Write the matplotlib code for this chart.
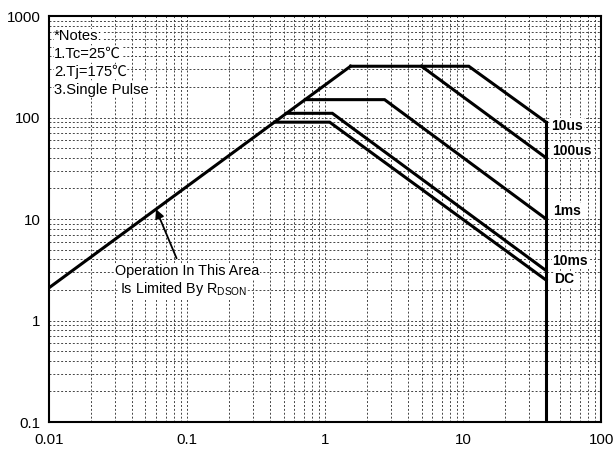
import matplotlib.pyplot as plt

# safe operating area data (Vds in V, Id in A)
rdson_v = [0.01, 1.53]
rdson_i = [2.1, 320]

v_10us = [1.53, 11, 40]
i_10us = [320, 320, 90]
v_100us = [5, 40]
i_100us = [320, 40]
v_1ms = [0.72, 2.7, 40]
i_1ms = [150, 150, 10]
v_10ms = [0.52, 1.13, 40]
i_10ms = [110, 110, 3.1]
v_dc = [0.43, 1.08, 40]
i_dc = [90, 90, 2.5]
vmax_v = [40, 40]
vmax_i = [0.1, 90]

curve_labels = ["10us", "100us", "1ms", "10ms", "DC"]
label_x = [43.5, 44, 45, 44.5, 46]
label_y = [83, 47, 12, 3.85, 2.55]

notes = ["*Notes:", "1.Tc=25\u2103", "2.Tj=175\u2103", "3.Single Pulse"]

fig = plt.figure(figsize=(6.14, 4.5), dpi=100)
ax = fig.add_axes([0.0798, 0.0622, 0.8992, 0.9022])
ax.set_xscale("log")
ax.set_yscale("log")
ax.set_xlim(0.01, 100)
ax.set_ylim(0.1, 1000)

ax.grid(True, which="both", linestyle=(0, (2, 2)), color="#444444", linewidth=0.7)
ax.set_axisbelow(True)

lw = 2.2
ax.plot(rdson_v, rdson_i, color="black", lw=lw)
for v, i in [(v_10us, i_10us), (v_100us, i_100us), (v_1ms, i_1ms),
             (v_10ms, i_10ms), (v_dc, i_dc), (vmax_v, vmax_i)]:
    ax.plot(v, i, color="black", lw=lw, solid_joinstyle="miter")

for lab, x, y in zip(curve_labels, label_x, label_y):
    ax.text(x, y, lab, fontsize=10, fontweight="bold", family="Liberation Sans",
            va="center", ha="left", bbox=dict(facecolor="white", edgecolor="none", pad=0.5))

for k, t in enumerate(notes):
    ax.text(0.0109, 10 ** (2.80 - 0.175 * k), t, fontsize=10.6,
            family=["Liberation Sans", "Noto Sans CJK SC"], va="center", ha="left",
            bbox=dict(facecolor="white", edgecolor="none", pad=0.3))

ax.annotate("", xy=(0.0596, 12.5), xytext=(0.084, 4.1),
            arrowprops=dict(arrowstyle="-|>", color="black", lw=1.3,
                            mutation_scale=13, shrinkA=0, shrinkB=0))
ax.text(0.030, 3.06, "Operation In This Area", fontsize=10.4, family="Liberation Sans",
        va="center", ha="left", bbox=dict(facecolor="white", edgecolor="none", pad=0.3))
ax.text(0.0325, 2.03, "Is Limited By R$_{\\mathregular{DSON}}$", fontsize=10.4,
        family="Liberation Sans", va="center", ha="left",
        bbox=dict(facecolor="white", edgecolor="none", pad=0.3))

ax.set_xticks([0.01, 0.1, 1, 10, 100])
ax.set_xticklabels(["0.01", "0.1", "1", "10", "100"])
ax.set_yticks([0.1, 1, 10, 100, 1000])
ax.set_yticklabels(["0.1", "1", "10", "100", "1000"])
ax.tick_params(which="both", length=0, labelsize=10.8)
ax.tick_params(axis="x", pad=8)
ax.tick_params(axis="y", pad=6)
for lbl in ax.get_xticklabels() + ax.get_yticklabels():
    lbl.set_family("Liberation Sans")
for s in ax.spines.values():
    s.set_linewidth(1.5)

fig.savefig("out.png", dpi=100)
